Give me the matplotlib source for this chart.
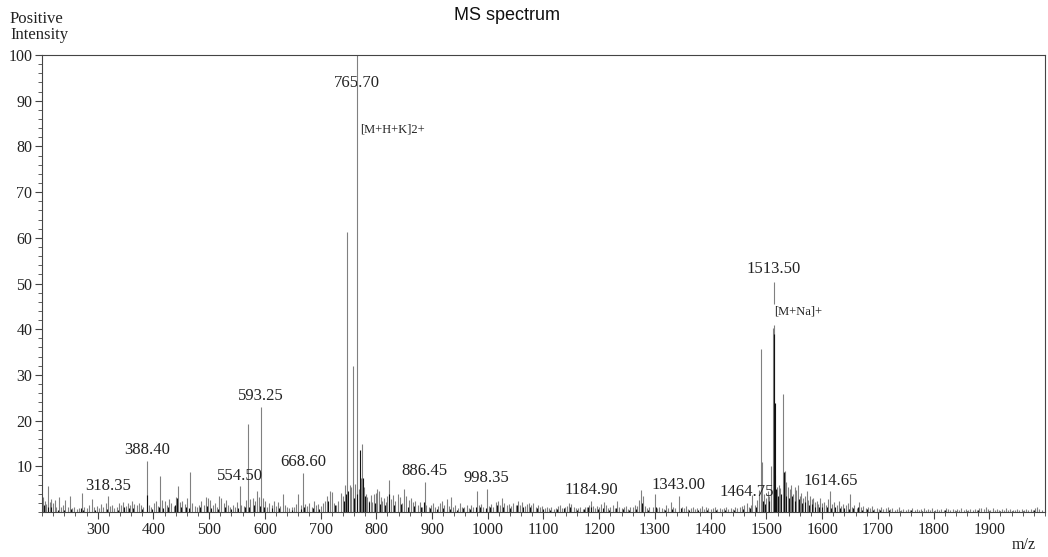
import numpy as np
import matplotlib.pyplot as plt
from matplotlib.ticker import MultipleLocator

# gray peaks (m/z, relative intensity)
gray_mz = [202, 205, 208, 211, 214, 217, 220, 223, 226, 230, 234, 238, 242, 246, 250, 254, 258, 262, 266, 272, 276, 280, 285, 290, 294, 298,
           302, 306, 310, 314, 318.35, 322, 326, 330, 334, 338, 342, 346, 350, 354, 358, 362, 366, 370, 374, 378, 382, 388.40, 392, 396,
           401, 405, 408, 412, 416, 420, 424, 428, 432, 436, 440, 444, 448, 452, 456, 460, 466, 470, 474, 478, 482, 486, 490, 494, 498,
           502, 506, 510, 514, 518, 522, 526, 530, 534, 538, 542, 546, 550, 554.50, 558, 562, 566, 570, 574, 578, 582, 586, 590, 593.25, 597, 601,
           604, 608, 612, 616, 620, 624, 628, 632, 636, 640, 644, 648, 652, 656, 660, 664, 668.60, 672, 676, 680, 684, 688, 692, 696, 700,
           704, 708, 712, 716, 720, 724, 728, 732, 736, 740, 744, 748, 752, 755, 758, 762, 765.70, 768, 772, 775, 778, 781, 784, 787, 790, 793, 796, 799,
           802, 805, 808, 811, 814, 817, 820, 823, 826, 830, 834, 838, 842, 846, 850, 854, 858, 862, 866, 870, 874, 878, 882, 886.45, 890, 894, 898,
           902, 906, 910, 914, 918, 922, 926, 930, 934, 938, 942, 946, 950, 954, 958, 962, 966, 970, 974, 980, 984, 988, 992, 998.35,
           1002, 1006, 1010, 1014, 1018, 1022, 1026, 1030, 1034, 1038, 1042, 1046, 1050, 1054, 1058, 1062, 1066, 1070, 1074, 1078, 1082, 1086, 1090, 1094, 1098,
           1102, 1106, 1110, 1114, 1118, 1122, 1126, 1130, 1134, 1138, 1142, 1146, 1150, 1154, 1158, 1162, 1166, 1170, 1174, 1178, 1182, 1184.90, 1188, 1192, 1196,
           1200, 1204, 1208, 1212, 1216, 1220, 1224, 1228, 1232, 1236, 1240, 1244, 1248, 1252, 1256, 1260, 1264, 1268, 1272, 1275, 1278, 1282, 1286, 1290, 1296, 1300,
           1304, 1308, 1312, 1316, 1320, 1324, 1328, 1332, 1336, 1343.00, 1348, 1352, 1356, 1360, 1364, 1368, 1372, 1376, 1380, 1384, 1388, 1392, 1396,
           1400, 1404, 1408, 1412, 1416, 1420, 1424, 1428, 1432, 1436, 1440, 1444, 1448, 1452, 1456, 1460, 1464.75, 1468, 1472, 1475, 1480, 1484, 1487, 1490, 1493, 1496, 1499,
           1502, 1505, 1508, 1511, 1513.50, 1516, 1519, 1522, 1525, 1530, 1533, 1536, 1539, 1542, 1545, 1548, 1551, 1554, 1557, 1560, 1563, 1566, 1569, 1572, 1575, 1578, 1581, 1584, 1587, 1590, 1593, 1596, 1599,
           1603, 1607, 1611, 1614.65, 1618, 1622, 1626, 1630, 1634, 1638, 1642, 1646, 1650, 1654, 1658, 1662, 1666, 1670, 1674, 1678, 1682, 1686, 1690, 1694, 1698,
           1702, 1706, 1710, 1714, 1718, 1722, 1726, 1730, 1734, 1738, 1742, 1746, 1750, 1754, 1758, 1762, 1766, 1770, 1774, 1778, 1782, 1786, 1790, 1794, 1798,
           1802, 1806, 1810, 1814, 1818, 1822, 1826, 1830, 1834, 1838, 1842, 1846, 1850, 1854, 1858, 1862, 1866, 1870, 1874, 1878, 1882, 1886, 1890, 1894, 1898,
           1902, 1906, 1910, 1914, 1918, 1922, 1926, 1930, 1934, 1938, 1942, 1946, 1950, 1954, 1958, 1962, 1966, 1970, 1974, 1978, 1982, 1986, 1990, 1994]
gray_int = [3.2, 2.5, 1.8, 5.6, 2.2, 2.8, 2.0, 2.6, 1.2, 3.3, 1.0, 1.5, 2.6, 1.0, 3.4, 0.8, 1.2, 0.6, 0.9, 4.2, 1.0, 0.8, 1.5, 2.9, 1.2, 1.4,
            0.9, 1.8, 1.2, 2.0, 3.4, 1.3, 1.6, 0.8, 1.2, 1.9, 1.6, 2.2, 1.3, 2.0, 1.5, 2.4, 1.8, 1.5, 2.0, 1.6, 1.2, 11.1, 1.6, 1.1,
            2.0, 2.4, 1.4, 7.8, 2.6, 2.3, 1.6, 2.8, 1.9, 1.3, 3.3, 5.6, 2.1, 2.5, 1.7, 3.0, 8.8, 2.0, 1.4, 1.0, 1.6, 2.3, 1.5, 3.2, 3.0,
            2.6, 1.6, 1.9, 1.0, 3.5, 3.1, 2.0, 2.6, 1.5, 1.2, 1.5, 1.1, 2.2, 5.6, 1.6, 1.4, 2.6, 19.3, 2.8, 3.0, 2.5, 4.7, 3.3, 23.0, 3.0, 2.3,
            1.2, 1.9, 1.6, 2.4, 1.3, 2.1, 1.4, 4.0, 1.5, 1.0, 0.8, 1.2, 1.0, 1.8, 4.0, 1.5, 8.5, 1.8, 1.4, 2.0, 1.2, 2.4, 1.6, 1.8, 1.3,
            2.0, 2.3, 3.4, 4.6, 4.3, 2.0, 1.6, 2.4, 4.1, 3.6, 5.8, 61.3, 6.0, 5.5, 32.0, 6.1, 100.0, 5.0, 7.5, 14.8, 5.5, 4.0, 3.2, 2.5, 3.8, 2.2, 4.0, 4.2,
            5.0, 4.5, 3.2, 2.4, 3.0, 2.2, 3.5, 7.0, 2.8, 3.8, 2.5, 4.0, 3.2, 2.0, 5.0, 3.5, 2.6, 3.0, 2.2, 2.5, 1.6, 2.1, 1.2, 6.6, 1.5, 1.2, 1.6,
            2.0, 1.1, 1.4, 2.0, 2.4, 1.6, 2.8, 1.3, 3.2, 1.0, 1.6, 0.8, 1.9, 1.1, 1.0, 1.5, 0.9, 1.6, 1.2, 4.6, 1.5, 1.8, 1.0, 5.1,
            1.3, 1.8, 1.1, 2.2, 2.4, 1.6, 3.0, 2.0, 1.6, 1.8, 1.3, 2.0, 1.5, 2.4, 1.6, 2.2, 1.4, 1.7, 2.0, 1.5, 1.9, 1.2, 1.6, 1.0, 1.4,
            0.9, 1.1, 0.8, 1.0, 0.7, 0.9, 1.3, 1.6, 0.8, 1.1, 1.4, 1.9, 1.7, 1.2, 0.8, 0.9, 1.1, 0.7, 1.0, 1.2, 1.6, 2.4, 1.4, 0.9, 1.3,
            1.0, 1.8, 2.2, 1.5, 0.8, 1.0, 1.6, 0.9, 2.3, 1.0, 0.8, 1.2, 1.4, 0.7, 1.0, 1.2, 1.6, 1.3, 2.6, 4.9, 3.6, 1.4, 0.8, 1.0, 1.2, 3.9,
            0.8, 1.2, 0.9, 0.7, 1.5, 0.8, 2.2, 1.0, 0.8, 3.5, 1.1, 0.9, 1.4, 0.6, 0.8, 1.0, 0.6, 0.9, 0.8, 1.4, 0.7, 1.0, 0.9,
            0.6, 0.8, 1.2, 0.7, 0.9, 0.6, 0.8, 1.1, 0.7, 0.9, 0.7, 1.0, 0.8, 1.0, 1.3, 1.6, 2.0, 1.0, 1.6, 3.8, 1.5, 2.6, 4.8, 35.6, 11.0, 4.0, 3.0,
            4.5, 3.5, 10.0, 40.3, 41.0, 8.0, 5.5, 6.0, 5.2, 25.8, 9.0, 6.5, 5.5, 5.0, 6.0, 4.0, 5.5, 4.8, 5.8, 3.5, 4.2, 3.0, 3.5, 4.5, 2.6, 3.4, 2.8, 3.0, 2.2, 2.5, 1.8, 3.0, 2.0,
            2.2, 1.6, 2.8, 4.5, 1.8, 2.2, 1.5, 2.5, 1.3, 1.8, 1.5, 2.0, 4.0, 1.2, 1.5, 0.9, 2.1, 1.0, 1.4, 0.8, 1.2, 0.9, 1.3, 0.7, 0.9,
            0.7, 1.0, 0.6, 0.8, 1.1, 0.6, 0.9, 0.5, 0.7, 1.0, 0.5, 0.6, 0.4, 0.7, 0.5, 0.8, 0.4, 0.6, 0.5, 0.7, 0.9, 0.5, 0.6, 0.4, 0.8,
            0.5, 0.7, 0.4, 0.6, 0.5, 0.9, 0.6, 0.5, 0.7, 0.4, 0.6, 0.5, 0.8, 0.4, 0.6, 0.5, 0.7, 0.4, 0.6, 0.5, 0.8, 0.9, 0.6, 1.1, 0.7,
            0.5, 0.8, 0.4, 0.6, 0.5, 0.7, 0.4, 0.9, 0.5, 0.6, 0.4, 0.5, 0.7, 0.4, 0.6, 0.5, 0.7, 0.4, 0.6, 0.5, 0.8, 1.0, 0.6, 0.5]

# darker peaks drawn on top
black_mz = [204, 210, 216, 228, 240, 252, 270, 274, 296, 316, 336, 348, 356, 364, 380, 388, 398, 410, 418, 426, 438, 442, 450, 458, 464,
            484, 496, 504, 516, 528, 540, 552, 564, 572, 580, 592, 598, 612, 626, 648, 664, 670, 686, 698, 714, 726, 742, 746, 750, 760,
            766, 770, 776, 779, 786, 798, 806, 816, 822, 832, 844, 856, 868, 880, 886, 896, 908, 920, 932, 944, 956, 968, 978, 986, 996,
            1004, 1016, 1028, 1040, 1052, 1064, 1076, 1088, 1100, 1112, 1124, 1136, 1148, 1160, 1172, 1180, 1186, 1198, 1206, 1218, 1230,
            1242, 1254, 1266, 1276, 1288, 1302, 1318, 1330, 1346, 1362, 1378, 1394, 1410, 1426, 1442, 1458, 1470, 1482, 1494, 1497, 1504,
            1513.5, 1515, 1517, 1521, 1527, 1531, 1535, 1540, 1546, 1552, 1558, 1564, 1570, 1576, 1582, 1588, 1594, 1600, 1608, 1616, 1624,
            1632, 1640, 1648, 1656, 1664, 1672, 1680, 1692, 1704, 1720, 1740, 1760, 1780, 1800, 1820, 1840, 1860, 1880, 1900, 1920, 1940, 1960, 1980]
black_int = [1.5, 1.2, 1.0, 0.5, 0.4, 0.6, 0.8, 0.5, 0.4, 0.6, 0.5, 1.2, 0.8, 0.9, 0.7, 3.8, 0.6, 1.2, 0.8, 1.0, 1.5, 3.0, 1.2, 1.0, 0.8,
             1.0, 1.3, 0.9, 0.7, 1.1, 0.6, 0.8, 1.0, 1.2, 1.5, 1.4, 1.0, 0.8, 0.9, 0.5, 0.7, 1.0, 0.8, 0.6, 2.4, 1.5, 2.5, 4.0, 4.5, 3.0,
             4.0, 13.5, 7.5, 3.5, 2.2, 2.0, 1.8, 1.5, 4.0, 1.6, 1.8, 1.2, 1.4, 1.0, 2.2, 0.8, 0.7, 0.9, 0.6, 0.5, 0.8, 0.6, 1.0, 1.2, 0.9,
             1.0, 1.5, 1.2, 0.9, 1.5, 1.0, 1.1, 0.8, 0.6, 0.5, 0.6, 0.9, 1.0, 0.5, 0.7, 1.0, 1.2, 0.6, 0.9, 0.5, 0.8,
             0.6, 0.5, 0.7, 2.0, 0.5, 1.0, 0.5, 0.6, 0.8, 0.4, 0.5, 0.4, 0.5, 0.4, 0.5, 0.7, 0.8, 1.0, 2.5, 1.8, 2.5,
             39.0, 23.8, 5.0, 3.5, 4.0, 8.8, 3.5, 3.0, 3.5, 2.5, 2.8, 2.0, 2.2, 1.5, 1.8, 1.2, 1.0, 1.2, 1.0, 0.8, 1.0,
             0.8, 0.9, 0.6, 0.8, 1.0, 0.5, 0.6, 0.4, 0.4, 0.5, 0.3, 0.4, 0.3, 0.3, 0.4, 0.3, 0.3, 0.4, 0.3, 0.3, 0.3, 0.3, 0.4]

# labelled peaks: m/z, intensity at the top of the peak
label_mz = [318.35, 388.40, 554.50, 593.25, 668.60, 886.45, 998.35, 1184.90, 1343.00, 1464.75, 1614.65]
label_int = [3.4, 11.1, 5.6, 23.0, 8.5, 6.6, 5.1, 2.4, 3.5, 2.0, 4.5]

serif = ['Liberation Serif', 'DejaVu Serif']
txt = '#222222'

fig = plt.figure(figsize=(10.48, 5.57), dpi=100)
ax = fig.add_axes([42/1048, 45/557, 1003/1048, 457/557])

ax.vlines(gray_mz, 0, gray_int, color='#808080', lw=0.8)
ax.vlines(black_mz, 0, black_int, color='#111111', lw=0.8)

ax.set_xlim(200, 2000)
ax.set_ylim(0, 100)

ax.xaxis.set_major_locator(MultipleLocator(100))
ax.xaxis.set_minor_locator(MultipleLocator(20))
ax.yaxis.set_major_locator(MultipleLocator(10))
ax.yaxis.set_minor_locator(MultipleLocator(2))
ax.tick_params(which='major', length=5, width=0.8, color='#444444', labelsize=11.5, labelcolor=txt, pad=2)
ax.tick_params(which='minor', length=3, width=0.6, color='#444444')
ax.set_xticks(range(300, 2000, 100))
ax.set_xticklabels([str(v) for v in range(300, 2000, 100)])
ax.set_yticks(range(10, 101, 10))
ax.set_yticklabels([str(v) for v in range(10, 101, 10)])
for lab in ax.get_xticklabels() + ax.get_yticklabels():
    lab.set_family(serif)
for s in ax.spines.values():
    s.set_color('#444444')
    s.set_linewidth(0.8)

for mz, h in zip(label_mz, label_int):
    ax.annotate('%.2f' % mz, (mz, h), xytext=(0, 2), textcoords='offset points',
                ha='center', va='bottom', fontsize=12, family=serif, color=txt)

# main peaks
ax.text(765.70, 93.8, '765.70', ha='center', va='center', fontsize=12, family=serif, color=txt, zorder=1)
ax.text(771, 83.6, '[M+H+K]2+', ha='left', va='center', fontsize=9, family=serif, color=txt)
ax.vlines([1513.50], 45.5, 50.3, color='#808080', lw=0.8)
ax.text(1513.50, 53.2, '1513.50', ha='center', va='center', fontsize=12, family=serif, color=txt)
ax.text(1514, 43.8, '[M+Na]+', ha='left', va='center', fontsize=9, family=serif, color=txt)

fig.text(10/1048, 1 - 11/557, 'Positive\nIntensity', ha='left', va='top', fontsize=12,
         family=serif, color=txt, linespacing=1.0)
fig.text(1036/1048, 1 - 545/557, 'm/z', ha='right', va='center', fontsize=11.5, family=serif, color=txt)
fig.text(507/1048, 1 - 15/557, 'MS spectrum', ha='center', va='center', fontsize=13,
         family=['Liberation Sans', 'DejaVu Sans'], color='#111111')

fig.savefig('out.png', dpi=100)
